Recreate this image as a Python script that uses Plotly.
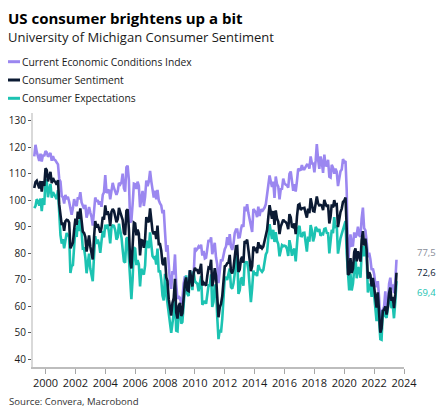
import pandas as pd
import plotly.graph_objects as go

# monthly observations, Apr 1999 - Jul 2023
dates = pd.date_range('1999-04-01', '2023-07-01', freq='MS')

sentiment = [
    104.6, 106.8, 107.3, 106.0, 104.5, 107.2, 103.2, 107.2, 105.4,
    112.0, 111.3, 107.1, 109.2, 110.7, 106.4, 108.3, 107.3, 106.8, 105.8, 107.6, 98.4,
    94.7, 90.6, 91.5, 88.4, 92.0, 92.6, 92.4, 91.5, 81.8, 82.7, 83.9, 88.8,
    93.0, 90.7, 95.7, 93.0, 96.9, 92.4, 88.1, 87.6, 86.1, 80.6, 84.2, 86.7,
    82.4, 79.9, 77.6, 86.0, 92.1, 89.7, 90.9, 89.3, 87.7, 89.6, 93.7, 92.6,
    98.0, 94.4, 95.8, 94.2, 90.2, 95.6, 96.7, 95.9, 94.2, 91.7, 92.8, 97.1,
    95.5, 94.1, 92.6, 87.7, 86.9, 96.0, 96.5, 89.1, 76.9, 74.2, 81.6, 91.5,
    91.2, 86.7, 88.9, 87.4, 79.1, 84.9, 84.7, 82.0, 85.4, 93.6, 92.1, 91.7,
    96.9, 91.3, 88.4, 87.1, 88.3, 85.3, 90.4, 83.4, 83.4, 80.9, 76.1, 75.5,
    78.4, 70.8, 69.5, 62.6, 59.8, 56.4, 61.2, 63.0, 70.3, 57.6, 55.3, 60.1,
    61.2, 56.3, 57.3, 65.1, 68.7, 70.8, 66.0, 65.7, 73.5, 70.6, 67.4, 72.5,
    74.4, 73.6, 73.6, 72.2, 73.6, 76.0, 67.8, 68.9, 68.2, 67.7, 71.6, 74.5,
    74.2, 77.5, 67.5, 69.8, 74.3, 71.5, 63.7, 55.8, 59.5, 60.8, 63.7, 69.9,
    75.0, 75.3, 76.2, 76.4, 79.3, 73.2, 72.3, 74.3, 78.3, 82.6, 82.7, 72.9,
    73.8, 77.6, 78.6, 76.4, 84.5, 84.1, 85.1, 82.1, 77.5, 73.2, 75.1, 82.5,
    81.2, 81.6, 80.0, 84.1, 81.9, 82.5, 81.8, 82.5, 84.6, 86.9, 88.8, 93.6,
    98.1, 95.4, 93.0, 95.9, 90.7, 96.1, 93.1, 91.9, 87.2, 90.0, 91.3, 92.6,
    92.0, 91.7, 91.0, 89.0, 94.7, 93.5, 90.0, 89.8, 91.2, 87.2, 93.8, 98.2,
    98.5, 96.3, 96.9, 97.0, 97.1, 95.0, 93.4, 96.8, 95.1, 100.7, 98.5, 95.9,
    95.7, 99.7, 101.4, 98.8, 98.0, 98.2, 97.9, 96.2, 100.1, 98.6, 97.5, 98.3,
    91.2, 93.8, 98.4, 97.2, 100.0, 98.2, 98.4, 89.8, 93.2, 95.5, 96.8, 99.3,
    99.8, 101.0, 89.1, 71.8, 72.3, 78.1, 72.5, 74.1, 80.4, 81.8, 76.9, 80.7,
    79.0, 76.8, 84.9, 88.3, 82.9, 85.5, 81.2, 70.3, 72.8, 71.7, 67.4, 70.6,
    67.2, 62.8, 59.4, 65.2, 58.4, 50.0, 51.5, 58.2, 58.6, 59.9, 56.8, 59.7,
    64.9, 67.0, 62.0, 63.5, 59.2, 64.4, 72.6,
]

current = [
    116.5, 120.9, 118.2, 116.0, 114.8, 117.5, 114.6, 117.1, 116.6,
    118.5, 118.0, 116.4, 117.3, 117.8, 114.9, 116.6, 115.3, 115.0, 114.2, 113.5, 108.0,
    107.0, 101.5, 101.2, 98.7, 102.0, 100.4, 101.3, 99.4, 96.3, 94.5, 97.0, 100.4,
    98.4, 97.8, 101.0, 100.3, 103.0, 99.1, 98.0, 96.7, 98.2, 93.4, 95.2, 97.4,
    95.3, 93.6, 90.4, 97.0, 101.0, 99.4, 100.0, 98.3, 99.6, 97.5, 102.0, 103.0,
    109.5, 102.7, 103.6, 104.0, 100.3, 104.8, 106.5, 104.6, 103.0, 102.0, 103.4, 106.5,
    105.9, 106.8, 110.0, 104.5, 103.2, 112.4, 113.0, 107.5, 91.6, 92.2, 98.7, 106.2,
    106.0, 104.2, 107.0, 105.4, 97.3, 101.8, 103.5, 97.8, 101.2, 107.4, 105.3, 107.0,
    111.0, 107.0, 103.2, 101.0, 103.6, 100.3, 103.9, 100.0, 98.8, 98.0, 95.0, 96.3,
    88.0, 80.5, 83.0, 73.3, 69.1, 66.5, 73.2, 72.0, 79.5, 68.3, 62.7, 63.7,
    63.0, 60.8, 62.5, 68.5, 71.3, 69.5, 68.2, 68.6, 73.5, 69.9, 69.6, 71.4,
    82.0, 81.0, 81.5, 82.5, 81.9, 83.2, 79.1, 80.8, 78.0, 78.3, 82.9, 85.0,
    84.2, 86.0, 79.6, 82.5, 83.9, 78.4, 75.8, 68.7, 72.6, 77.6, 76.9, 79.6,
    81.5, 82.5, 86.0, 83.0, 87.2, 82.5, 81.2, 83.4, 87.6, 88.9, 88.9, 85.9,
    86.0, 89.0, 90.8, 89.9, 97.6, 95.8, 98.5, 95.1, 92.7, 91.4, 88.0, 96.6,
    95.8, 95.4, 93.6, 97.5, 94.0, 96.6, 95.7, 96.3, 97.2, 98.5, 101.8, 104.8,
    109.3, 106.9, 105.0, 107.0, 100.8, 108.9, 106.1, 105.1, 100.3, 104.1, 104.3, 108.1,
    106.4, 105.8, 105.6, 104.7, 109.9, 110.8, 107.1, 103.5, 106.0, 103.2, 107.3, 111.9,
    111.3, 111.5, 113.2, 111.7, 111.7, 112.5, 113.4, 113.3, 111.9, 116.5, 113.9, 113.8,
    110.5, 114.9, 121.2, 115.4, 111.8, 116.5, 114.4, 110.3, 117.2, 113.1, 113.0, 115.2,
    108.8, 108.5, 113.3, 112.3, 110.0, 111.9, 110.7, 105.3, 108.5, 110.9, 111.6, 115.5,
    114.4, 114.8, 103.7, 74.3, 82.3, 87.1, 82.8, 82.9, 87.8, 85.9, 87.0, 90.0,
    86.7, 86.2, 93.0, 97.2, 89.4, 88.6, 84.5, 78.5, 80.1, 77.7, 73.6, 74.2,
    72.0, 68.2, 67.2, 69.4, 63.3, 53.8, 58.1, 58.6, 59.7, 65.6, 58.8, 59.4,
    68.4, 70.7, 66.3, 68.2, 64.9, 69.0, 77.5,
]

expectations = [
    97.0, 97.8, 100.3, 99.6, 97.9, 100.6, 95.9, 100.8, 98.2,
    107.8, 107.0, 101.1, 104.0, 106.1, 100.9, 103.0, 102.2, 101.5, 100.4, 103.8, 92.2,
    86.8, 83.6, 85.3, 81.8, 85.6, 87.6, 86.7, 86.4, 72.5, 75.1, 75.5, 81.3,
    89.5, 86.1, 92.3, 88.3, 93.0, 88.1, 81.7, 81.8, 78.3, 72.4, 77.1, 79.8,
    74.1, 71.1, 69.4, 78.9, 86.4, 83.5, 85.1, 83.5, 80.1, 84.5, 88.4, 85.9,
    90.8, 89.1, 90.8, 87.9, 83.7, 89.7, 90.4, 90.3, 88.6, 85.1, 86.0, 91.1,
    88.8, 85.9, 81.4, 76.9, 76.4, 85.5, 85.9, 77.3, 67.5, 62.6, 70.6, 82.1,
    81.7, 75.5, 77.3, 75.8, 67.4, 74.1, 72.6, 71.9, 75.3, 84.7, 83.6, 81.9,
    87.8, 81.2, 78.9, 78.2, 78.5, 75.7, 81.7, 72.7, 73.5, 69.9, 64.0, 62.1,
    72.2, 64.6, 60.8, 55.7, 53.8, 49.9, 53.5, 57.2, 64.4, 50.7, 50.5, 57.8,
    60.0, 53.4, 54.0, 62.9, 67.0, 71.6, 64.6, 63.8, 73.5, 71.0, 66.0, 73.2,
    69.5, 68.8, 68.5, 65.6, 68.3, 71.4, 60.5, 61.3, 61.9, 60.9, 64.3, 67.8,
    67.8, 72.0, 59.7, 61.6, 68.1, 67.1, 55.9, 47.5, 51.1, 50.0, 55.2, 63.7,
    70.8, 70.7, 69.9, 72.2, 74.2, 67.2, 66.6, 68.5, 72.3, 78.6, 78.7, 64.6,
    66.0, 70.3, 70.8, 67.7, 76.1, 76.6, 76.5, 73.8, 67.7, 61.5, 66.8, 73.4,
    71.8, 72.7, 71.3, 75.5, 74.1, 73.4, 72.9, 73.6, 76.5, 79.5, 80.5, 86.4,
    90.9, 88.0, 85.3, 88.8, 84.2, 87.9, 84.7, 83.4, 78.8, 80.9, 83.0, 82.6,
    82.8, 82.6, 81.6, 78.9, 84.9, 82.4, 79.0, 81.0, 81.7, 76.9, 85.1, 89.4,
    90.3, 86.5, 86.4, 87.6, 87.7, 83.8, 80.6, 86.2, 84.3, 90.6, 88.6, 84.4,
    86.2, 89.9, 88.7, 88.1, 89.1, 86.5, 87.3, 87.1, 89.1, 89.3, 87.6, 87.5,
    79.9, 84.4, 88.8, 87.5, 93.6, 89.4, 90.5, 79.8, 83.4, 85.6, 87.3, 88.9,
    90.5, 92.1, 79.7, 70.1, 65.9, 72.3, 65.9, 68.5, 75.6, 79.2, 70.5, 74.6,
    74.0, 70.7, 79.7, 82.7, 78.8, 83.5, 79.0, 65.1, 68.1, 67.9, 63.5, 68.3,
    64.1, 59.4, 54.3, 62.5, 55.2, 47.5, 47.3, 58.0, 58.0, 56.2, 55.6, 59.9,
    62.7, 64.7, 59.2, 60.5, 55.4, 61.5, 69.4,
]

year_ticks = list(range(2000, 2025, 2))
y_ticks = list(range(40, 131, 10))

PURPLE = '#9b87f0'
NAVY = '#0b1a33'
TEAL = '#1cc3b2'
FONT = 'Open Sans'

# the page body adds an 8px margin, so the figure is drawn 8px smaller
OFF = 8
W, H = 445 - OFF, 416 - OFF
L, R, T, B = 25, 41, 105, 49
pw, ph = W - L - R, H - T - B


def px_x(px):
    # screen pixel -> paper x
    return (px - OFF - L) / pw


def px_y(py):
    # screen pixel -> paper y
    return (H - B - (py - OFF)) / ph


fig = go.Figure()
# draw order: current, expectations, then sentiment on top
for vals, color in [(current, PURPLE), (expectations, TEAL), (sentiment, NAVY)]:
    fig.add_trace(go.Scatter(x=dates, y=vals, mode='lines',
                             line=dict(color=color, width=2.6),
                             showlegend=False, hoverinfo='skip'))

fig.update_layout(
    width=W, height=H,
    margin=dict(l=L, r=R, t=T, b=B, autoexpand=False),
    paper_bgcolor='white', plot_bgcolor='white',
    font=dict(family=FONT, size=11, color='#1a1a1a'),
)
fig.update_xaxes(
    type='date', range=['1999-03-01', '2024-01-01'],
    tickvals=[f'{y}-01-01' for y in year_ticks],
    ticktext=[str(y) for y in year_ticks],
    showgrid=False, zeroline=False,
    showline=True, linecolor='#bdbdbd', linewidth=1.5,
    ticks='outside', ticklen=5, tickcolor='#a6a6a6', tickwidth=1.2,
    tickfont=dict(size=11, color='#1a1a1a'),
)
fig.update_yaxes(
    range=[37, 132.9], tickvals=y_ticks,
    showgrid=False, zeroline=False,
    showline=True, linecolor='#d9d9d9', linewidth=2,
    ticks='outside', ticklen=3, tickcolor='#595959', tickwidth=1,
    tickfont=dict(size=10, color='#1a1a1a'),
)

# title, subtitle, source
fig.add_annotation(text='<b>US consumer brightens up a bit</b>', xref='paper', yref='paper',
                   x=px_x(6), y=px_y(18), xanchor='left', yanchor='middle', showarrow=False,
                   font=dict(size=15, color='#000000', family=FONT))
fig.add_annotation(text='University of Michigan Consumer Sentiment', xref='paper', yref='paper',
                   x=px_x(6), y=px_y(37), xanchor='left', yanchor='middle', showarrow=False,
                   font=dict(size=13, color='#1a1a1a', family=FONT))
fig.add_annotation(text='Source: Convera, Macrobond', xref='paper', yref='paper',
                   x=px_x(7), y=px_y(401), xanchor='left', yanchor='middle', showarrow=False,
                   font=dict(size=9.6, color='#333333', family=FONT))

# hand-made legend
legend_items = [('Current Economic Conditions Index', PURPLE, 61.7),
                ('Consumer Sentiment', NAVY, 80.0),
                ('Consumer Expectations', TEAL, 98.3)]
for label, color, py in legend_items:
    fig.add_shape(type='line', xref='paper', yref='paper',
                  x0=px_x(7), x1=px_x(20), y0=px_y(py), y1=px_y(py),
                  line=dict(color=color, width=3))
    fig.add_annotation(text=label, xref='paper', yref='paper',
                       x=px_x(20), y=px_y(py), xanchor='left', yanchor='middle',
                       showarrow=False, font=dict(size=10.3, color='#1a1a1a', family=FONT))

# last-value labels on the right
end_labels = [(current[-1], '#8a8e99', 7), (sentiment[-1], NAVY, 0), (expectations[-1], TEAL, -11)]
for v, color, shift in end_labels:
    fig.add_annotation(text=f'{v:.1f}'.replace('.', ','), xref='paper', yref='y',
                       x=px_x(415), y=v, yshift=shift, xanchor='left', yanchor='middle',
                       showarrow=False, font=dict(size=9.5, color=color, family=FONT))

fig.write_html('out.html')
